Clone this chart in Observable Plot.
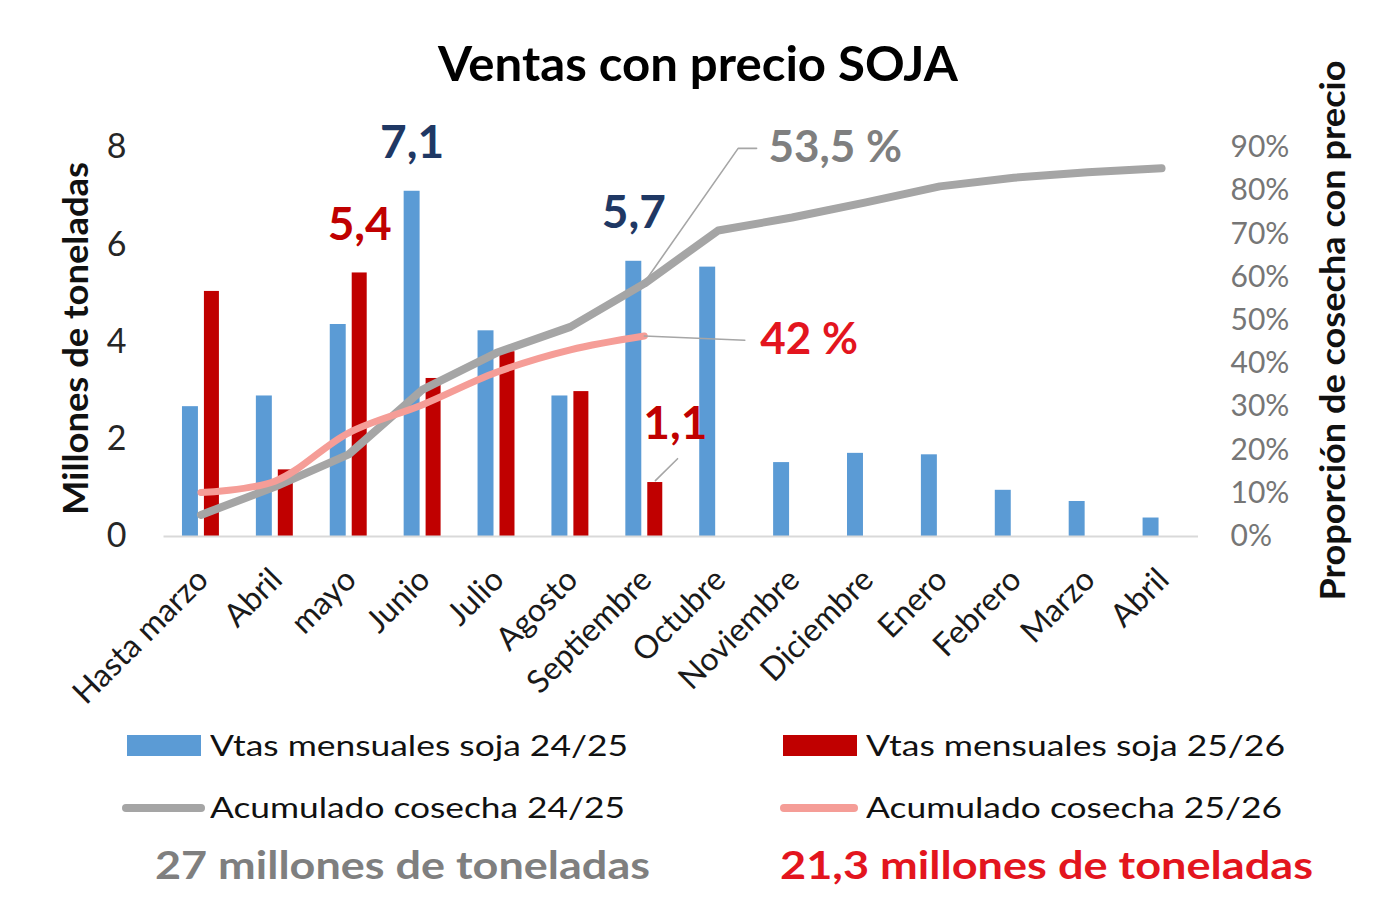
<!DOCTYPE html>
<html>
<head>
<meta charset="utf-8">
<script src="https://cdn.jsdelivr.net/npm/d3@7"></script>
<script src="https://cdn.jsdelivr.net/npm/@observablehq/plot@0.6"></script>
<style>
  body { margin: 0; background: #fff; }
  #page { position: relative; width: 1397px; height: 901px; overflow: hidden; font-family: Lato, "Open Sans", sans-serif; background:#fff; }
  .t { position: absolute; white-space: nowrap; line-height: 1; transform-origin: left center; }
  .sw { position: absolute; }
  #chart { position: absolute; left: 0; top: 100px; }
  #chart svg { overflow: visible; }
</style>
</head>
<body>
<div id="page">
  <div id="chart"></div>
</div>
<script>
// ---------------- DATA ----------------
const months = ["Hasta marzo","Abril","mayo","Junio","Julio","Agosto","Septiembre","Octubre","Noviembre","Diciembre","Enero","Febrero","Marzo","Abril"];
const ventas2425 = [2.67, 2.89, 4.36, 7.1, 4.23, 2.89, 5.66, 5.54, 1.52, 1.71, 1.68, 0.95, 0.72, 0.38];
const ventas2526 = [5.04, 1.37, 5.42, 3.25, 3.8, 2.98, 1.11];
const acum2425 = [5, 11.5, 19, 34, 42.5, 48.5, 58.5, 70.8, 73.8, 77.3, 81, 83, 84.3, 85.2];
const acum2526 = [10.2, 12.8, 24, 30.5, 38, 43.2, 46.4];
const leftTicks = [0, 2, 4, 6, 8];
const pctTicks = [0, 10, 20, 30, 40, 50, 60, 70, 80, 90];
const seriesNames = ["Vtas mensuales soja 24/25", "Vtas mensuales soja 25/26", "Acumulado cosecha 24/25", "Acumulado cosecha 25/26"];
const totals = ["27 millones de toneladas", "21,3 millones de toneladas"];
const title = "Ventas con precio SOJA";
const yTitle = "Millones de toneladas";
const y2Title = "Proporción de cosecha con precio";
// value call-outs
const barLabels = [
  {t: "7,1", i: 3, v: 7.1, s: 0},
  {t: "5,4", i: 2, v: 5.42, s: 1},
  {t: "5,7", i: 6, v: 5.66, s: 0}
];
const smallLabel = [{t: "1,1", i: 6, v: 1.11}];
const pctLabels = [
  {t: "53,5 %", x: 7.68, p: 89.8, c: "#7f7f7f"},
  {t: "42 %", x: 7.57, p: 45.4, c: "#e3151e"}
];

// ---------------- STYLE ----------------
const C_BLUE = "#5b9bd5", C_RED = "#c00000", C_GRAY = "#a5a5a5", C_SALMON = "#f59d97";
const C_NAVY = "#1f3864", C_LEAD = "#a6a6a6";
const FONT = "Lato, 'Open Sans', sans-serif";
const Y_MAX = 8, PCT_MAX = 90;
const toY = p => p * Y_MAX / PCT_MAX;
const BLUE_OFF = [-0.25, -0.034], RED_OFF = [0.047, 0.25];
const blueLabelX = -0.142, redLabelX = 0.149;

const blueData = ventas2425.map((v, i) => ({i, v}));
const redData = ventas2526.map((v, i) => ({i, v}));
const grayLine = acum2425.map((p, i) => ({i, p}));
const salmonLine = acum2526.map((p, i) => ({i, p}));

const lastI = acum2526.length - 1;
const leaders = [
  {id: "a", x: lastI + 0.05, y: toY(acum2425[lastI] + 1.5)},
  {id: "a", x: 7.27, y: toY(pctLabels[0].p)},
  {id: "a", x: 7.52, y: toY(pctLabels[0].p)},
  {id: "b", x: lastI, y: toY(acum2526[lastI])},
  {id: "b", x: 7.36, y: toY(pctLabels[1].p)},
  {id: "c", x: lastI + 0.15, y: 1.15},
  {id: "c", x: lastI + 0.45, y: 1.6}
];

const chart = Plot.plot({
  width: 1397,
  height: 620,
  marginLeft: 163.5,
  marginRight: 199,
  marginTop: 47,
  marginBottom: 184,
  x: {domain: [-0.5, months.length - 0.5]},
  y: {domain: [0, Y_MAX]},
  style: {fontFamily: FONT, background: "transparent", overflow: "visible"},
  marks: [
    Plot.rectY(blueData, {x1: d => d.i + BLUE_OFF[0], x2: d => d.i + BLUE_OFF[1], y1: 0, y2: "v", fill: C_BLUE}),
    Plot.rectY(redData, {x1: d => d.i + RED_OFF[0], x2: d => d.i + RED_OFF[1], y1: 0, y2: "v", fill: C_RED}),
    Plot.ruleY([0], {stroke: "#d9d9d9", strokeWidth: 2}),
    Plot.line(grayLine, {x: "i", y: d => toY(d.p), stroke: C_GRAY, strokeWidth: 8, strokeLinecap: "round", strokeLinejoin: "round"}),
    Plot.line(salmonLine, {x: "i", y: d => toY(d.p), stroke: C_SALMON, strokeWidth: 7, strokeLinecap: "round", curve: "catmull-rom"}),
    Plot.line(leaders, {x: "x", y: "y", z: "id", stroke: C_LEAD, strokeWidth: 1.6}),
    Plot.text(barLabels, {x: d => d.i + (d.s === 0 ? blueLabelX : redLabelX), y: "v", text: "t", dy: -48,
      fill: d => d.s === 0 ? C_NAVY : C_RED, fontSize: 46, fontWeight: "bold"}),
    Plot.text(smallLabel, {x: d => d.i + 0.42, y: "v", text: "t", dy: -58, fill: C_RED, fontSize: 46, fontWeight: "bold"}),
    Plot.text(pctLabels, {x: "x", y: d => toY(d.p), text: "t", fill: d => d.c, textAnchor: "start", fontSize: 44, fontWeight: "bold"}),
    Plot.axisY({anchor: "left", ticks: leftTicks, tickSize: 0, tickPadding: 37.5, fontSize: 34, color: "#262626", label: null}),
    Plot.axisY({anchor: "right", ticks: pctTicks.map(toY), tickFormat: v => Math.round(v * PCT_MAX / Y_MAX) + "%", tickSize: 0, tickPadding: 32, fontSize: 30, color: "#767676", label: null}),
    Plot.axisX({ticks: d3.range(months.length), tickFormat: i => months[i], tickRotate: -45, tickSize: 0, tickPadding: 38, dx: 2, fontSize: 32, color: "#1a1a1a", label: null}),
    Plot.text([yTitle], {frameAnchor: "left", textAnchor: "middle", dx: -87.5, dy: -3.5, rotate: -90, fontSize: 35, fontWeight: "bold", fill: "#111", className: "ylab-left"}),
    Plot.text([y2Title], {frameAnchor: "right", textAnchor: "middle", dx: 135, dy: -11.5, rotate: -90, fontSize: 35, fontWeight: "bold", fill: "#111", className: "ylab-right"})
  ]
});
document.getElementById("chart").appendChild(chart);

// ---------------- HTML title / legend ----------------
const page = document.getElementById("page");
function addText(txt, left, cy, w, fs, weight, color) {
  const el = document.createElement("div");
  el.className = "t";
  el.textContent = txt;
  el.style.left = left + "px";
  el.style.top = (cy - 0.529 * fs) + "px";
  el.style.fontSize = fs + "px";
  el.style.fontWeight = weight;
  el.style.color = color;
  el.dataset.w = w;
  page.appendChild(el);
}
function addSwatch(left, top, w, h, color, radius) {
  const el = document.createElement("div");
  el.className = "sw";
  Object.assign(el.style, {left: left + "px", top: top + "px", width: w + "px", height: h + "px", background: color, borderRadius: radius + "px"});
  page.appendChild(el);
}
addText(title, 438, 65, 520, 47, "bold", "#000");
addSwatch(127, 735, 74, 21, C_BLUE, 0);
addText(seriesNames[0], 210, 745.5, 418, 29, "normal", "#111");
addSwatch(783, 735, 74, 21, C_RED, 0);
addText(seriesNames[1], 866, 745.5, 419, 29, "normal", "#111");
addSwatch(122, 804, 83, 8, C_GRAY, 4);
addText(seriesNames[2], 210, 807.5, 415, 29, "normal", "#111");
addSwatch(780, 804, 78, 8, C_SALMON, 4);
addText(seriesNames[3], 866, 807.5, 416, 29, "normal", "#111");
addText(totals[0], 155, 866, 495, 39, "bold", "#7f7f7f");
addText(totals[1], 780, 866, 533, 39, "bold", "#e3151e");

function fit() {
  page.querySelectorAll(".t").forEach(el => {
    el.style.transform = "none";
    const r = el.getBoundingClientRect().width;
    el.style.transform = `scaleX(${(+el.dataset.w) / r})`;
  });
  const l = chart.querySelector(".ylab-left text");
  if (l) { l.setAttribute("textLength", 353); l.setAttribute("lengthAdjust", "spacingAndGlyphs"); }
  const r = chart.querySelector(".ylab-right text");
  if (r) { r.setAttribute("textLength", 540); r.setAttribute("lengthAdjust", "spacingAndGlyphs"); }
}
fit();
if (document.fonts) document.fonts.ready.then(fit);
</script>
</body>
</html>
